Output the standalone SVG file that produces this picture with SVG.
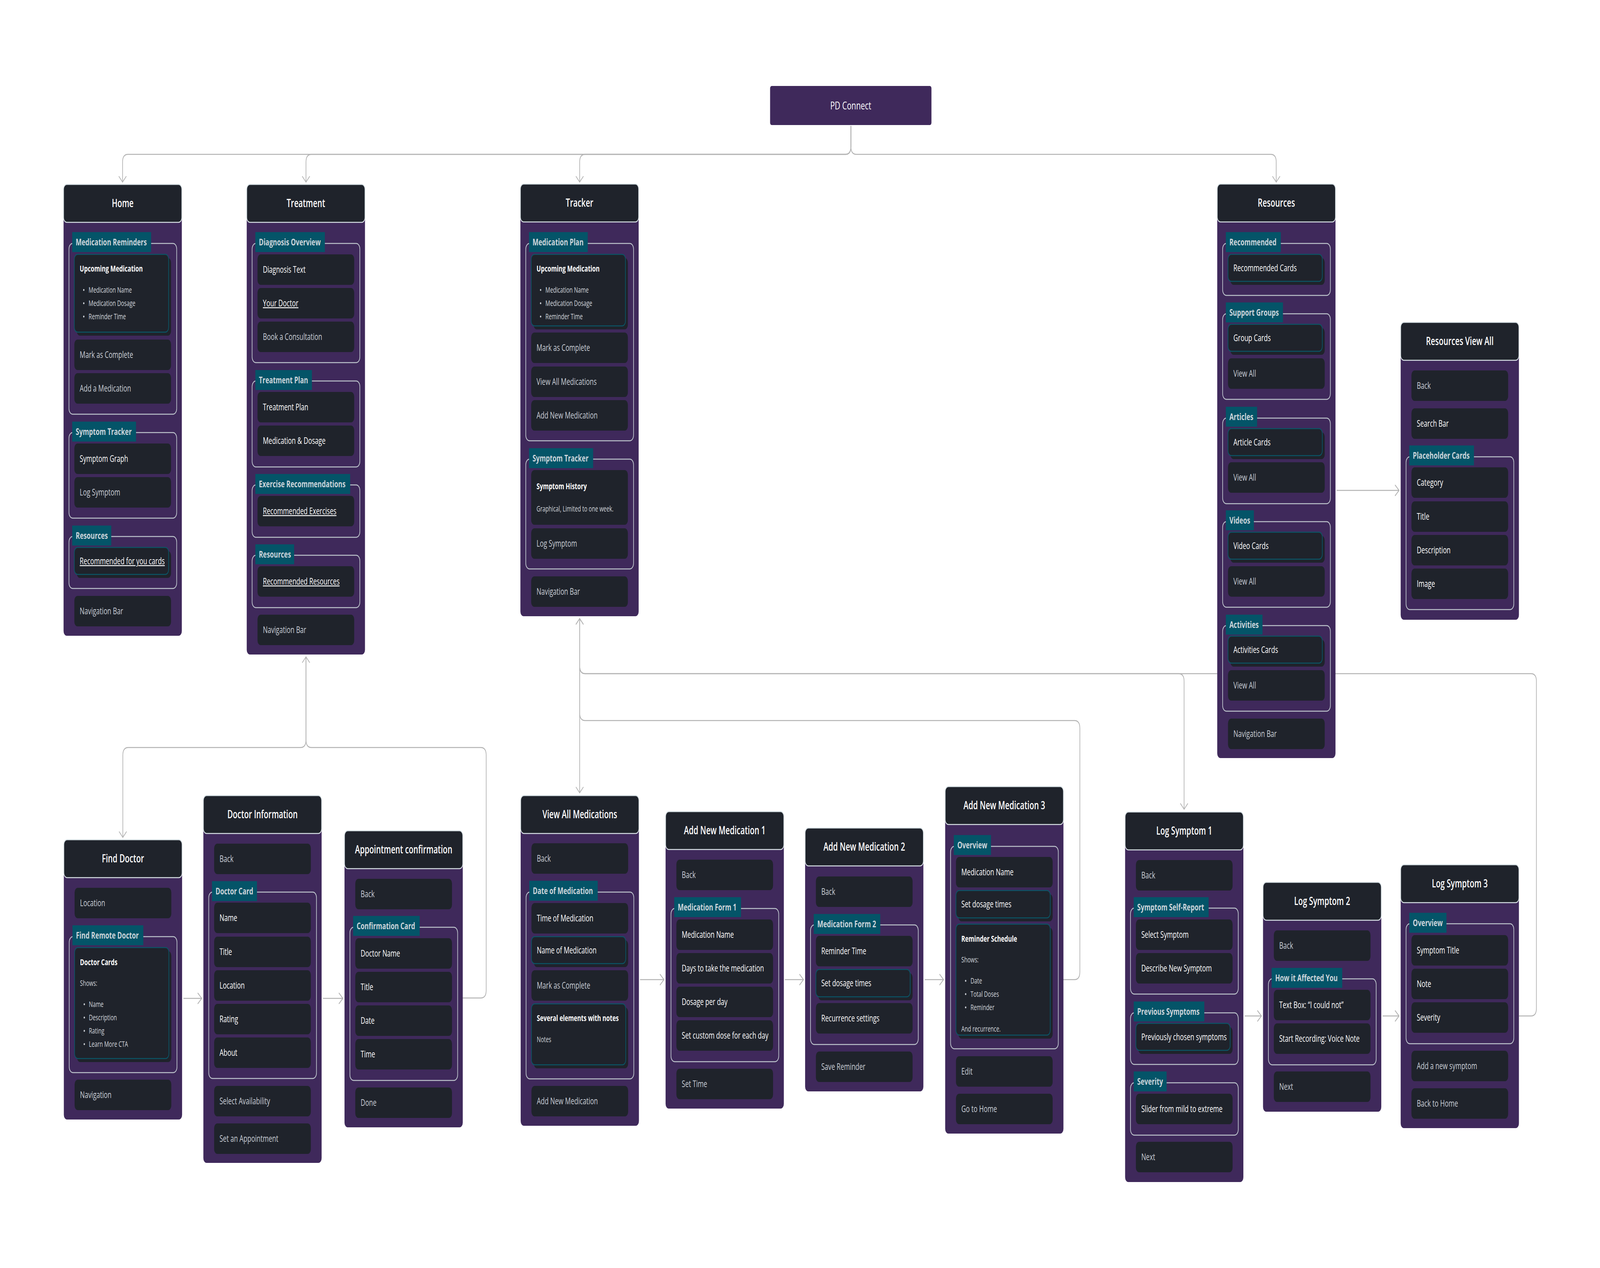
<svg xmlns="http://www.w3.org/2000/svg" width="5940" height="3245" viewBox="0 0 5940 3245" preserveAspectRatio="none">
<style>
svg:root{width:100vw;height:100vh}
.body{fill:#3f295b}
.hdr{fill:#1f232b;stroke:#d8e1e5;stroke-width:2.5}
.ttl{font-family:"Open Sans","Noto Sans",sans-serif;font-weight:600;font-size:28px;fill:#ffffff;text-anchor:middle}
.it{fill:#1f232b}
.tc{fill:#1f232b;stroke:#0b5566;stroke-width:2.5}
.grp{fill:none;stroke:#bcc3cb;stroke-width:2.5}
.lb{fill:#045468}
.lt{font-family:"Open Sans","Noto Sans",sans-serif;font-weight:700;font-size:23.5px;fill:#cdd5db}
.w{font-family:"Open Sans","Noto Sans",sans-serif;font-size:23.5px;fill:#ffffff}
.g{font-family:"Open Sans","Noto Sans",sans-serif;font-size:23.5px;fill:#c9ced6}
.b{font-family:"Open Sans","Noto Sans",sans-serif;font-weight:700;font-size:21.5px;fill:#ffffff}
.s{font-family:"Open Sans","Noto Sans",sans-serif;font-size:19.5px;fill:#d3d7dd}
.u{text-decoration:underline}
.dot{fill:#d3d7dd}
.con{fill:none;stroke:#b3b3b3;stroke-width:2.5}
.pd{fill:#3f295b}
.pdt{font-family:"Open Sans","Noto Sans",sans-serif;font-size:28px;fill:#ffffff;text-anchor:middle}
</style>
<defs>
<marker id="ah" viewBox="-20 -20 40 40" refX="0" refY="0" markerWidth="40" markerHeight="40" markerUnits="userSpaceOnUse" orient="auto">
<path d="M-15,-14 L0,0 L-15,14" fill="none" stroke="#b3b3b3" stroke-width="2.5"/>
</marker>
</defs>
<rect x="0" y="0" width="5940" height="3245" fill="#ffffff"/>

<g id="connectors">
<path class="con" marker-end="url(#ah)" d="M3159 322 V375 Q3159 395 3139 395 H475 Q455 395 455 415 V466"/>
<path class="con" marker-end="url(#ah)" d="M3159 322 V375 Q3159 395 3139 395 H1156 Q1136 395 1136 415 V466"/>
<path class="con" marker-end="url(#ah)" d="M3159 322 V375 Q3159 395 3139 395 H2172 Q2152 395 2152 415 V466"/>
<path class="con" marker-end="url(#ah)" d="M3159 322 V375 Q3159 395 3179 395 H4718 Q4738 395 4738 415 V466"/>
<path class="con" marker-end="url(#ah)" d="M4962 1255 H5194"/>
<path class="con" marker-end="url(#ah)" d="M1717 2554 H1785 Q1805 2554 1805 2534 V1933 Q1805 1913 1785 1913 H1156 Q1136 1913 1136 1893 V1681"/>
<path class="con" marker-end="url(#ah)" d="M1136 1681 V1893 Q1136 1913 1116 1913 H476 Q456 1913 456 1933 V2143"/>
<path class="con" marker-end="url(#ah)" d="M681 2555 H749"/>
<path class="con" marker-end="url(#ah)" d="M1199 2555 H1273"/>
<path class="con" marker-end="url(#ah)" d="M2152 1583 V2029"/>
<path class="con" marker-end="url(#ah)" d="M3947 2507 H3989 Q4009 2507 4009 2487 V1864 Q4009 1844 3989 1844 H2172 Q2152 1844 2152 1824 V1583"/>
<path class="con" marker-end="url(#ah)" d="M5639 2600 H5684 Q5704 2600 5704 2580 V1744 Q5704 1724 5684 1724 H2172 Q2152 1724 2152 1704 V1583"/>
<path class="con" marker-end="url(#ah)" d="M2152 1583 V1704 Q2152 1724 2172 1724 H4376 Q4396 1724 4396 1744 V2071"/>
<path class="con" marker-end="url(#ah)" d="M2376 2507 H2465"/>
<path class="con" marker-end="url(#ah)" d="M2914 2507 H2983"/>
<path class="con" marker-end="url(#ah)" d="M3433 2507 H3503"/>
<path class="con" marker-end="url(#ah)" d="M4621 2600 H4683"/>
<path class="con" marker-end="url(#ah)" d="M5133 2600 H5194"/>
</g>

<g id="pd-connect">
<rect class="pd" x="2859" y="220" width="599" height="100" rx="6"/>
<text class="pdt" x="3158.5" y="280">PD Connect</text>
</g>

<g id="home">
<rect class="body" x="236" y="512" width="439" height="1115" rx="12"/>
<rect class="hdr" x="236" y="472" width="439" height="97" rx="12"/>
<text class="ttl" x="455.5" y="530">Home</text>
<rect class="grp" x="256" y="623" width="400" height="437" rx="14"/>
<rect class="lb" x="268" y="594" width="293" height="51"/>
<text class="lt" x="281" y="628">Medication Reminders</text>
<rect class="it" x="285" y="660" width="350" height="199" rx="12"/>
<rect class="tc" x="276" y="651" width="350" height="199" rx="12"/>
<text class="b" x="296" y="695">Upcoming Medication</text>
<circle class="dot" cx="311" cy="742" r="2.5"/><text class="s" x="329" y="749">Medication Name</text>
<circle class="dot" cx="311" cy="776" r="2.5"/><text class="s" x="329" y="783">Medication Dosage</text>
<circle class="dot" cx="311" cy="810" r="2.5"/><text class="s" x="329" y="817">Reminder Time</text>
<rect class="it" x="276" y="869" width="359" height="78" rx="12"/>
<text class="g" x="296" y="916">Mark as Complete</text>
<rect class="it" x="276" y="955" width="359" height="78" rx="12"/>
<text class="g" x="296" y="1002">Add a Medication</text>
<rect class="grp" x="256" y="1107" width="400" height="219" rx="14"/>
<rect class="lb" x="268" y="1079" width="237" height="51"/>
<text class="lt" x="281" y="1113">Symptom Tracker</text>
<rect class="it" x="276" y="1135" width="359" height="78" rx="12"/>
<text class="w" x="296" y="1182">Symptom Graph</text>
<rect class="it" x="276" y="1221" width="359" height="78" rx="12"/>
<text class="g" x="296" y="1268">Log Symptom</text>
<rect class="grp" x="256" y="1373" width="400" height="133" rx="14"/>
<rect class="lb" x="268" y="1345" width="145" height="51"/>
<text class="lt" x="281" y="1379">Resources</text>
<rect class="it" x="285" y="1410" width="350" height="69" rx="12"/>
<rect class="tc" x="276" y="1401" width="350" height="69" rx="12"/>
<text class="w u" x="296" y="1444">Recommended for you cards</text>
<rect class="it" x="276" y="1525" width="359" height="78" rx="12"/>
<text class="g" x="296" y="1572">Navigation Bar</text>
</g>

<g id="treatment">
<rect class="body" x="916" y="512" width="439" height="1163" rx="12"/>
<rect class="hdr" x="916" y="472" width="439" height="97" rx="12"/>
<text class="ttl" x="1135.5" y="530">Treatment</text>
<rect class="grp" x="936" y="623" width="400" height="305" rx="14"/>
<rect class="lb" x="948" y="594" width="258" height="51"/>
<text class="lt" x="961" y="628">Diagnosis Overview</text>
<rect class="it" x="956" y="651" width="359" height="78" rx="12"/>
<text class="w" x="976" y="698">Diagnosis Text</text>
<rect class="it" x="956" y="737" width="359" height="78" rx="12"/>
<text class="w u" x="976" y="784">Your Doctor</text>
<rect class="it" x="956" y="823" width="359" height="78" rx="12"/>
<text class="g" x="976" y="870">Book a Consultation</text>
<rect class="grp" x="936" y="975" width="400" height="220" rx="14"/>
<rect class="lb" x="948" y="947" width="210" height="51"/>
<text class="lt" x="961" y="981">Treatment Plan</text>
<rect class="it" x="956" y="1003" width="359" height="78" rx="12"/>
<text class="w" x="976" y="1050">Treatment Plan</text>
<rect class="it" x="956" y="1089" width="359" height="78" rx="12"/>
<text class="w" x="976" y="1136">Medication &amp; Dosage</text>
<rect class="grp" x="936" y="1241" width="400" height="134" rx="14"/>
<rect class="lb" x="948" y="1213" width="352" height="51"/>
<text class="lt" x="961" y="1247">Exercise Recommendations</text>
<rect class="it" x="956" y="1269" width="359" height="78" rx="12"/>
<text class="w u" x="976" y="1316">Recommended Exercises</text>
<rect class="grp" x="936" y="1421" width="400" height="134" rx="14"/>
<rect class="lb" x="948" y="1393" width="144" height="51"/>
<text class="lt" x="961" y="1427">Resources</text>
<rect class="it" x="956" y="1449" width="359" height="78" rx="12"/>
<text class="w u" x="976" y="1496">Recommended Resources</text>
<rect class="it" x="956" y="1573" width="359" height="78" rx="12"/>
<text class="g" x="976" y="1620">Navigation Bar</text>
</g>

<g id="tracker">
<rect class="body" x="1932" y="511" width="439" height="1066" rx="12"/>
<rect class="hdr" x="1932" y="471" width="439" height="97" rx="12"/>
<text class="ttl" x="2151.5" y="529">Tracker</text>
<rect class="grp" x="1952" y="623" width="400" height="505" rx="14"/>
<rect class="lb" x="1964" y="594" width="218" height="51"/>
<text class="lt" x="1977" y="628">Medication Plan</text>
<rect class="it" x="1981" y="660" width="350" height="183" rx="12"/>
<rect class="tc" x="1972" y="651" width="350" height="183" rx="12"/>
<text class="b" x="1992" y="695">Upcoming Medication</text>
<circle class="dot" cx="2007" cy="742" r="2.5"/><text class="s" x="2025" y="749">Medication Name</text>
<circle class="dot" cx="2007" cy="776" r="2.5"/><text class="s" x="2025" y="783">Medication Dosage</text>
<circle class="dot" cx="2007" cy="810" r="2.5"/><text class="s" x="2025" y="817">Reminder Time</text>
<rect class="it" x="1972" y="851" width="359" height="78" rx="12"/>
<text class="g" x="1992" y="898">Mark as Complete</text>
<rect class="it" x="1972" y="938" width="359" height="78" rx="12"/>
<text class="g" x="1992" y="985">View All Medications</text>
<rect class="it" x="1972" y="1024" width="359" height="78" rx="12"/>
<text class="g" x="1992" y="1071">Add New Medication</text>
<rect class="grp" x="1952" y="1175" width="400" height="281" rx="14"/>
<rect class="lb" x="1964" y="1147" width="238" height="51"/>
<text class="lt" x="1977" y="1181">Symptom Tracker</text>
<rect class="it" x="1972" y="1203" width="359" height="140" rx="12"/>
<text class="b" x="1992" y="1252">Symptom History</text>
<text class="s" x="1992" y="1309">Graphical, Limited to one week.</text>
<rect class="it" x="1972" y="1352" width="359" height="78" rx="12"/>
<text class="g" x="1992" y="1399">Log Symptom</text>
<rect class="it" x="1972" y="1475" width="359" height="78" rx="12"/>
<text class="g" x="1992" y="1522">Navigation Bar</text>
</g>

<g id="resources">
<rect class="body" x="4519" y="511" width="439" height="1429" rx="12"/>
<rect class="hdr" x="4519" y="471" width="439" height="97" rx="12"/>
<text class="ttl" x="4738.5" y="529">Resources</text>
<rect class="grp" x="4539" y="623" width="400" height="133" rx="14"/>
<rect class="lb" x="4551" y="594" width="204" height="51"/>
<text class="lt" x="4564" y="628">Recommended</text>
<rect class="it" x="4568" y="660" width="350" height="69" rx="12"/>
<rect class="tc" x="4559" y="651" width="350" height="69" rx="12"/>
<text class="w" x="4579" y="694">Recommended Cards</text>
<rect class="grp" x="4539" y="803" width="400" height="219" rx="14"/>
<rect class="lb" x="4551" y="774" width="212" height="51"/>
<text class="lt" x="4564" y="808">Support Groups</text>
<rect class="it" x="4568" y="839" width="350" height="69" rx="12"/>
<rect class="tc" x="4559" y="830" width="350" height="69" rx="12"/>
<text class="w" x="4579" y="873">Group Cards</text>
<rect class="it" x="4559" y="917" width="359" height="78" rx="12"/>
<text class="g" x="4579" y="964">View All</text>
<rect class="grp" x="4539" y="1070" width="400" height="219" rx="14"/>
<rect class="lb" x="4551" y="1041" width="116" height="51"/>
<text class="lt" x="4564" y="1075">Articles</text>
<rect class="it" x="4568" y="1106" width="350" height="69" rx="12"/>
<rect class="tc" x="4559" y="1097" width="350" height="69" rx="12"/>
<text class="w" x="4579" y="1140">Article Cards</text>
<rect class="it" x="4559" y="1183" width="359" height="78" rx="12"/>
<text class="g" x="4579" y="1230">View All</text>
<rect class="grp" x="4539" y="1335" width="400" height="219" rx="14"/>
<rect class="lb" x="4551" y="1306" width="104" height="51"/>
<text class="lt" x="4564" y="1340">Videos</text>
<rect class="it" x="4568" y="1371" width="350" height="69" rx="12"/>
<rect class="tc" x="4559" y="1362" width="350" height="69" rx="12"/>
<text class="w" x="4579" y="1405">Video Cards</text>
<rect class="it" x="4559" y="1449" width="359" height="78" rx="12"/>
<text class="g" x="4579" y="1496">View All</text>
<rect class="grp" x="4539" y="1601" width="400" height="219" rx="14"/>
<rect class="lb" x="4551" y="1573" width="136" height="51"/>
<text class="lt" x="4564" y="1607">Activities</text>
<rect class="it" x="4568" y="1637" width="350" height="69" rx="12"/>
<rect class="tc" x="4559" y="1628" width="350" height="69" rx="12"/>
<text class="w" x="4579" y="1671">Activities Cards</text>
<rect class="it" x="4559" y="1715" width="359" height="78" rx="12"/>
<text class="g" x="4579" y="1762">View All</text>
<rect class="it" x="4559" y="1839" width="359" height="78" rx="12"/>
<text class="g" x="4579" y="1886">Navigation Bar</text>
</g>

<g id="resources-view-all">
<rect class="body" x="5200" y="865" width="439" height="721" rx="12"/>
<rect class="hdr" x="5200" y="825" width="439" height="97" rx="12"/>
<text class="ttl" x="5419.5" y="883">Resources View All</text>
<rect class="it" x="5240" y="948" width="359" height="78" rx="12"/>
<text class="g" x="5260" y="995">Back</text>
<rect class="it" x="5240" y="1045" width="359" height="78" rx="12"/>
<text class="w" x="5260" y="1092">Search Bar</text>
<rect class="grp" x="5220" y="1169" width="400" height="391" rx="14"/>
<rect class="lb" x="5232" y="1140" width="240" height="51"/>
<text class="lt" x="5245" y="1174">Placeholder Cards</text>
<rect class="it" x="5240" y="1196" width="359" height="78" rx="12"/>
<text class="w" x="5260" y="1243">Category</text>
<rect class="it" x="5240" y="1283" width="359" height="78" rx="12"/>
<text class="w" x="5260" y="1330">Title</text>
<rect class="it" x="5240" y="1369" width="359" height="78" rx="12"/>
<text class="w" x="5260" y="1416">Description</text>
<rect class="it" x="5240" y="1455" width="359" height="78" rx="12"/>
<text class="w" x="5260" y="1502">Image</text>
</g>

<g id="find-doctor">
<rect class="body" x="237" y="2189" width="439" height="676" rx="12"/>
<rect class="hdr" x="237" y="2149" width="439" height="97" rx="12"/>
<text class="ttl" x="456.5" y="2207">Find Doctor</text>
<rect class="it" x="277" y="2272" width="359" height="78" rx="12"/>
<text class="g" x="297" y="2319">Location</text>
<rect class="grp" x="257" y="2397" width="400" height="348" rx="14"/>
<rect class="lb" x="269" y="2368" width="263" height="51"/>
<text class="lt" x="282" y="2402">Find Remote Doctor</text>
<rect class="it" x="286" y="2434" width="350" height="284" rx="12"/>
<rect class="tc" x="277" y="2425" width="350" height="284" rx="12"/>
<text class="b" x="297" y="2470">Doctor Cards</text>
<text class="s" x="297" y="2523">Shows:</text>
<circle class="dot" cx="313" cy="2570" r="2.5"/><text class="s" x="330" y="2577">Name</text>
<circle class="dot" cx="313" cy="2604" r="2.5"/><text class="s" x="330" y="2611">Description</text>
<circle class="dot" cx="313" cy="2638" r="2.5"/><text class="s" x="330" y="2645">Rating</text>
<circle class="dot" cx="313" cy="2672" r="2.5"/><text class="s" x="330" y="2679">Learn More CTA</text>
<rect class="it" x="277" y="2763" width="359" height="78" rx="12"/>
<text class="g" x="297" y="2810">Navigation</text>
</g>

<g id="doctor-information">
<rect class="body" x="755" y="2076" width="439" height="900" rx="12"/>
<rect class="hdr" x="755" y="2036" width="439" height="97" rx="12"/>
<text class="ttl" x="974.5" y="2094">Doctor Information</text>
<rect class="it" x="795" y="2159" width="359" height="78" rx="12"/>
<text class="g" x="815" y="2206">Back</text>
<rect class="grp" x="775" y="2283" width="400" height="477" rx="14"/>
<rect class="lb" x="787" y="2255" width="167" height="51"/>
<text class="lt" x="800" y="2289">Doctor Card</text>
<rect class="it" x="795" y="2310" width="359" height="78" rx="12"/>
<text class="w" x="815" y="2357">Name</text>
<rect class="it" x="795" y="2397" width="359" height="78" rx="12"/>
<text class="w" x="815" y="2444">Title</text>
<rect class="it" x="795" y="2483" width="359" height="78" rx="12"/>
<text class="w" x="815" y="2530">Location</text>
<rect class="it" x="795" y="2569" width="359" height="78" rx="12"/>
<text class="w" x="815" y="2616">Rating</text>
<rect class="it" x="795" y="2655" width="359" height="78" rx="12"/>
<text class="w" x="815" y="2702">About</text>
<rect class="it" x="795" y="2779" width="359" height="78" rx="12"/>
<text class="g" x="815" y="2826">Select Availability</text>
<rect class="it" x="795" y="2875" width="359" height="78" rx="12"/>
<text class="g" x="815" y="2922">Set an Appointment</text>
</g>

<g id="appointment-confirmation">
<rect class="body" x="1279" y="2166" width="439" height="719" rx="12"/>
<rect class="hdr" x="1279" y="2126" width="439" height="97" rx="12"/>
<text class="ttl" x="1498.5" y="2184">Appointment confirmation</text>
<rect class="it" x="1319" y="2249" width="359" height="78" rx="12"/>
<text class="g" x="1339" y="2296">Back</text>
<rect class="grp" x="1299" y="2373" width="400" height="392" rx="14"/>
<rect class="lb" x="1311" y="2344" width="247" height="51"/>
<text class="lt" x="1324" y="2378">Confirmation Card</text>
<rect class="it" x="1319" y="2401" width="359" height="78" rx="12"/>
<text class="w" x="1339" y="2448">Doctor Name</text>
<rect class="it" x="1319" y="2487" width="359" height="78" rx="12"/>
<text class="w" x="1339" y="2534">Title</text>
<rect class="it" x="1319" y="2573" width="359" height="78" rx="12"/>
<text class="w" x="1339" y="2620">Date</text>
<rect class="it" x="1319" y="2659" width="359" height="78" rx="12"/>
<text class="w" x="1339" y="2706">Time</text>
<rect class="it" x="1319" y="2783" width="359" height="78" rx="12"/>
<text class="g" x="1339" y="2830">Done</text>
</g>

<g id="view-all-medications">
<rect class="body" x="1933" y="2076" width="439" height="805" rx="12"/>
<rect class="hdr" x="1933" y="2036" width="439" height="97" rx="12"/>
<text class="ttl" x="2152.5" y="2094">View All Medications</text>
<rect class="it" x="1973" y="2158" width="359" height="78" rx="12"/>
<text class="g" x="1993" y="2205">Back</text>
<rect class="grp" x="1953" y="2283" width="400" height="478" rx="14"/>
<rect class="lb" x="1965" y="2254" width="254" height="51"/>
<text class="lt" x="1978" y="2288">Date of Medication</text>
<rect class="it" x="1973" y="2311" width="359" height="78" rx="12"/>
<text class="w" x="1993" y="2358">Time of Medication</text>
<rect class="it" x="1982" y="2406" width="350" height="69" rx="12"/>
<rect class="tc" x="1973" y="2397" width="350" height="69" rx="12"/>
<text class="w" x="1993" y="2440">Name of Medication</text>
<rect class="it" x="1973" y="2483" width="359" height="78" rx="12"/>
<text class="g" x="1993" y="2530">Mark as Complete</text>
<rect class="it" x="1982" y="2578" width="350" height="156" rx="12"/>
<rect class="tc" x="1973" y="2569" width="350" height="156" rx="12"/>
<text class="b" x="1993" y="2613">Several elements with notes</text>
<text class="s" x="1993" y="2667">Notes</text>
<rect class="it" x="1973" y="2779" width="359" height="78" rx="12"/>
<text class="g" x="1993" y="2826">Add New Medication</text>
</g>

<g id="add-new-medication-1">
<rect class="body" x="2471" y="2117" width="439" height="720" rx="12"/>
<rect class="hdr" x="2471" y="2077" width="439" height="97" rx="12"/>
<text class="ttl" x="2690.5" y="2135">Add New Medication 1</text>
<rect class="it" x="2511" y="2200" width="359" height="78" rx="12"/>
<text class="g" x="2531" y="2247">Back</text>
<rect class="grp" x="2491" y="2325" width="400" height="392" rx="14"/>
<rect class="lb" x="2503" y="2296" width="248" height="51"/>
<text class="lt" x="2516" y="2330">Medication Form 1</text>
<rect class="it" x="2511" y="2353" width="359" height="78" rx="12"/>
<text class="w" x="2531" y="2400">Medication Name</text>
<rect class="it" x="2511" y="2439" width="359" height="78" rx="12"/>
<text class="w" x="2531" y="2486">Days to take the medication</text>
<rect class="it" x="2511" y="2525" width="359" height="78" rx="12"/>
<text class="w" x="2531" y="2572">Dosage per day</text>
<rect class="it" x="2511" y="2611" width="359" height="78" rx="12"/>
<text class="w" x="2531" y="2658">Set custom dose for each day</text>
<rect class="it" x="2511" y="2735" width="359" height="78" rx="12"/>
<text class="g" x="2531" y="2782">Set Time</text>
</g>

<g id="add-new-medication-2">
<rect class="body" x="2989" y="2159" width="439" height="634" rx="12"/>
<rect class="hdr" x="2989" y="2119" width="439" height="97" rx="12"/>
<text class="ttl" x="3208.5" y="2177">Add New Medication 2</text>
<rect class="it" x="3029" y="2243" width="359" height="78" rx="12"/>
<text class="g" x="3049" y="2290">Back</text>
<rect class="grp" x="3009" y="2367" width="400" height="306" rx="14"/>
<rect class="lb" x="3021" y="2339" width="247" height="51"/>
<text class="lt" x="3034" y="2373">Medication Form 2</text>
<rect class="it" x="3029" y="2395" width="359" height="78" rx="12"/>
<text class="w" x="3049" y="2442">Reminder Time</text>
<rect class="it" x="3038" y="2490" width="350" height="70" rx="12"/>
<rect class="tc" x="3029" y="2481" width="350" height="70" rx="12"/>
<text class="w" x="3049" y="2524">Set dosage times</text>
<rect class="it" x="3029" y="2567" width="359" height="78" rx="12"/>
<text class="w" x="3049" y="2614">Recurrence settings</text>
<rect class="it" x="3029" y="2691" width="359" height="78" rx="12"/>
<text class="g" x="3049" y="2738">Save Reminder</text>
</g>

<g id="add-new-medication-3">
<rect class="body" x="3509" y="2053" width="439" height="848" rx="12"/>
<rect class="hdr" x="3509" y="2013" width="439" height="97" rx="12"/>
<text class="ttl" x="3728.5" y="2071">Add New Medication 3</text>
<rect class="grp" x="3529" y="2166" width="400" height="518" rx="14"/>
<rect class="lb" x="3541" y="2137" width="138" height="51"/>
<text class="lt" x="3554" y="2171">Overview</text>
<rect class="it" x="3549" y="2193" width="359" height="78" rx="12"/>
<text class="w" x="3569" y="2240">Medication Name</text>
<rect class="it" x="3558" y="2288" width="350" height="70" rx="12"/>
<rect class="tc" x="3549" y="2279" width="350" height="70" rx="12"/>
<text class="w" x="3569" y="2322">Set dosage times</text>
<rect class="it" x="3558" y="2374" width="350" height="284" rx="12"/>
<rect class="tc" x="3549" y="2365" width="350" height="284" rx="12"/>
<text class="b" x="3569" y="2410">Reminder Schedule</text>
<text class="s" x="3569" y="2463">Shows:</text>
<circle class="dot" cx="3585" cy="2510" r="2.5"/><text class="s" x="3603" y="2517">Date</text>
<circle class="dot" cx="3585" cy="2544" r="2.5"/><text class="s" x="3603" y="2551">Total Doses</text>
<circle class="dot" cx="3585" cy="2578" r="2.5"/><text class="s" x="3603" y="2585">Reminder</text>
<text class="s" x="3569" y="2640">And recurrence.</text>
<rect class="it" x="3549" y="2703" width="359" height="78" rx="12"/>
<text class="g" x="3569" y="2750">Edit</text>
<rect class="it" x="3549" y="2799" width="359" height="78" rx="12"/>
<text class="g" x="3569" y="2846">Go to Home</text>
</g>

<g id="log-symptom-1">
<rect class="body" x="4177" y="2118" width="439" height="907" rx="12"/>
<rect class="hdr" x="4177" y="2078" width="439" height="97" rx="12"/>
<text class="ttl" x="4396.5" y="2136">Log Symptom 1</text>
<rect class="it" x="4217" y="2201" width="359" height="78" rx="12"/>
<text class="g" x="4237" y="2248">Back</text>
<rect class="grp" x="4197" y="2324" width="400" height="220" rx="14"/>
<rect class="lb" x="4209" y="2296" width="278" height="51"/>
<text class="lt" x="4222" y="2330">Symptom Self-Report</text>
<rect class="it" x="4217" y="2353" width="359" height="78" rx="12"/>
<text class="w" x="4237" y="2400">Select Symptom</text>
<rect class="it" x="4217" y="2439" width="359" height="78" rx="12"/>
<text class="w" x="4237" y="2486">Describe New Symptom</text>
<rect class="grp" x="4197" y="2592" width="400" height="132" rx="14"/>
<rect class="lb" x="4209" y="2563" width="262" height="51"/>
<text class="lt" x="4222" y="2597">Previous Symptoms</text>
<rect class="it" x="4226" y="2628" width="350" height="69" rx="12"/>
<rect class="tc" x="4217" y="2619" width="350" height="69" rx="12"/>
<text class="w" x="4237" y="2662">Previously chosen symptoms</text>
<rect class="grp" x="4197" y="2771" width="400" height="134" rx="14"/>
<rect class="lb" x="4209" y="2742" width="122" height="51"/>
<text class="lt" x="4222" y="2776">Severity</text>
<rect class="it" x="4217" y="2799" width="359" height="78" rx="12"/>
<text class="w" x="4237" y="2846">Slider from mild to extreme</text>
<rect class="it" x="4217" y="2922" width="359" height="78" rx="12"/>
<text class="g" x="4237" y="2969">Next</text>
</g>

<g id="log-symptom-2">
<rect class="body" x="4689" y="2298" width="439" height="547" rx="12"/>
<rect class="hdr" x="4689" y="2258" width="439" height="97" rx="12"/>
<text class="ttl" x="4908.5" y="2316">Log Symptom 2</text>
<rect class="it" x="4729" y="2381" width="359" height="78" rx="12"/>
<text class="g" x="4749" y="2428">Back</text>
<rect class="grp" x="4709" y="2505" width="400" height="220" rx="14"/>
<rect class="lb" x="4721" y="2477" width="262" height="51"/>
<text class="lt" x="4734" y="2511">How it Affected You</text>
<rect class="it" x="4729" y="2533" width="359" height="78" rx="12"/>
<text class="w" x="4749" y="2580">Text Box: “I could not”</text>
<rect class="it" x="4729" y="2619" width="359" height="78" rx="12"/>
<text class="w" x="4749" y="2666">Start Recording: Voice Note</text>
<rect class="it" x="4729" y="2742" width="359" height="78" rx="12"/>
<text class="g" x="4749" y="2789">Next</text>
</g>

<g id="log-symptom-3">
<rect class="body" x="5200" y="2253" width="439" height="634" rx="12"/>
<rect class="hdr" x="5200" y="2213" width="439" height="97" rx="12"/>
<text class="ttl" x="5419.5" y="2271">Log Symptom 3</text>
<rect class="grp" x="5220" y="2364" width="400" height="307" rx="14"/>
<rect class="lb" x="5232" y="2336" width="138" height="51"/>
<text class="lt" x="5245" y="2370">Overview</text>
<rect class="it" x="5240" y="2393" width="359" height="78" rx="12"/>
<text class="w" x="5260" y="2440">Symptom Title</text>
<rect class="it" x="5240" y="2479" width="359" height="78" rx="12"/>
<text class="w" x="5260" y="2526">Note</text>
<rect class="it" x="5240" y="2565" width="359" height="78" rx="12"/>
<text class="w" x="5260" y="2612">Severity</text>
<rect class="it" x="5240" y="2689" width="359" height="78" rx="12"/>
<text class="g" x="5260" y="2736">Add a new symptom</text>
<rect class="it" x="5240" y="2785" width="359" height="78" rx="12"/>
<text class="g" x="5260" y="2832">Back to Home</text>
</g>
</svg>
